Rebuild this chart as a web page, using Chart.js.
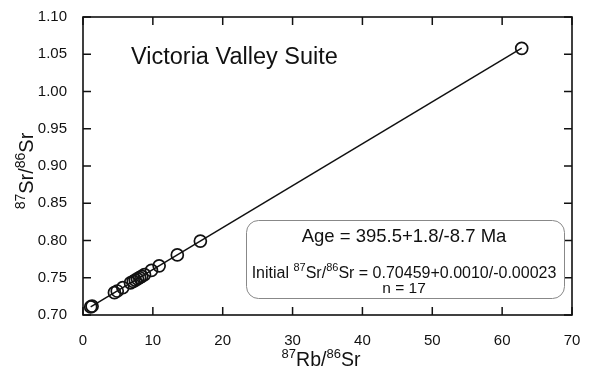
<!DOCTYPE html>
<html>
<head>
<meta charset="utf-8">
<script src="https://cdn.jsdelivr.net/npm/chart.js@4.4.1/dist/chart.umd.min.js"></script>
<style>
  body { margin: 0; background: #fff; }
  #wrap { width: 591px; height: 370px; }
</style>
</head>
<body>
<div id="wrap"><canvas id="isochron" width="591" height="370"></canvas></div>
<script>
// whole-rock samples, Victoria Valley Suite
const rbSr = [1.1, 1.3, 4.5, 4.9, 5.7, 6.8, 7.2, 7.5, 7.8, 8.1, 8.4, 8.8, 9.8, 10.9, 13.5, 16.8, 62.8];
const srSr = [0.7108, 0.7118, 0.7300, 0.7322, 0.7368, 0.7430, 0.7452, 0.7468, 0.7486, 0.7502, 0.7519, 0.7543, 0.7598, 0.7660, 0.7806, 0.7992, 1.0580];

const xTicks = [0, 10, 20, 30, 40, 50, 60, 70];
const yTicks = [0.70, 0.75, 0.80, 0.85, 0.90, 0.95, 1.00, 1.05, 1.10];

// isochron result
const ageMa = 395.5;
const initialRatio = 0.70459;
const lambdaRb = 1.42e-11;
const slope = Math.expm1(lambdaRb * ageMa * 1e6);
const lineX = [rbSr[0], rbSr[rbSr.length - 1]];

const FONT = "'Liberation Sans', Arial, Helvetica, sans-serif";

// draws text with superscript pieces, parts = [[text, isSup], ...]
function drawRich(ctx, parts, x, y, size, align) {
  const supSize = Math.round(size * 0.68);
  let total = 0;
  parts.forEach(p => {
    ctx.font = (p[1] ? supSize : size) + "px " + FONT;
    total += ctx.measureText(p[0]).width;
  });
  let cx = align === "center" ? x - total / 2 : x;
  ctx.textAlign = "left";
  ctx.textBaseline = "alphabetic";
  parts.forEach(p => {
    ctx.font = (p[1] ? supSize : size) + "px " + FONT;
    ctx.fillText(p[0], cx, p[1] ? y - size * 0.42 : y);
    cx += ctx.measureText(p[0]).width;
  });
}

function roundRect(ctx, x, y, w, h, r) {
  ctx.beginPath();
  ctx.moveTo(x + r, y);
  ctx.lineTo(x + w - r, y);
  ctx.arcTo(x + w, y, x + w, y + r, r);
  ctx.lineTo(x + w, y + h - r);
  ctx.arcTo(x + w, y + h, x + w - r, y + h, r);
  ctx.lineTo(x + r, y + h);
  ctx.arcTo(x, y + h, x, y + h - r, r);
  ctx.lineTo(x, y + r);
  ctx.arcTo(x, y, x + r, y, r);
  ctx.closePath();
}

const framePlugin = {
  id: "frame",
  afterDraw(chart) {
    const ctx = chart.ctx;
    const a = chart.chartArea;
    const xs = chart.scales.x, ys = chart.scales.y;
    ctx.save();
    ctx.strokeStyle = "#111";
    ctx.lineWidth = 1.6;
    ctx.strokeRect(a.left, a.top, a.right - a.left, a.bottom - a.top);

    // inward ticks on all four sides
    const tl = 8;
    ctx.lineWidth = 1.5;
    ctx.beginPath();
    xTicks.forEach(v => {
      const px = xs.getPixelForValue(v);
      ctx.moveTo(px, a.bottom);
      ctx.lineTo(px, a.bottom - tl);
      ctx.moveTo(px, a.top);
      ctx.lineTo(px, a.top + tl);
    });
    yTicks.forEach(v => {
      const py = ys.getPixelForValue(v);
      ctx.moveTo(a.left, py);
      ctx.lineTo(a.left + tl, py);
      ctx.moveTo(a.right, py);
      ctx.lineTo(a.right - tl, py);
    });
    ctx.stroke();

    ctx.fillStyle = "#111";
    // axis titles
    drawRich(ctx, [["87", true], ["Rb/", false], ["86", true], ["Sr", false]], 321, 366, 19.5, "center");
    ctx.save();
    ctx.translate(33, 171);
    ctx.rotate(-Math.PI / 2);
    drawRich(ctx, [["87", true], ["Sr/", false], ["86", true], ["Sr", false]], 0, 0, 20, "center");
    ctx.restore();

    // suite name
    ctx.font = "23.5px " + FONT;
    ctx.textAlign = "left";
    ctx.fillText("Victoria Valley Suite", 131, 64);

    // result box
    ctx.strokeStyle = "#888";
    ctx.lineWidth = 1;
    roundRect(ctx, 246.5, 220.5, 318, 78, 12);
    ctx.stroke();
    ctx.fillStyle = "#111";
    const bx = 404;
    drawRich(ctx, [["Age = 395.5+1.8/-8.7 Ma", false]], bx, 242, 18.5, "center");
    drawRich(ctx, [["Initial ", false], ["87", true], ["Sr/", false], ["86", true],
      ["Sr = 0.70459+0.0010/-0.00023", false]], bx, 277.5, 16, "center");
    drawRich(ctx, [["n = 17", false]], bx, 292.5, 15.5, "center");
    ctx.restore();
  }
};

new Chart(document.getElementById("isochron"), {
  type: "scatter",
  data: {
    datasets: [
      {
        label: "isochron",
        type: "line",
        data: lineX.map(x => ({ x: x, y: initialRatio + slope * x })),
        borderColor: "#111",
        borderWidth: 1.5,
        pointRadius: 0,
        fill: false,
        order: 2
      },
      {
        label: "samples",
        data: rbSr.map((x, i) => ({ x: x, y: srSr[i] })),
        pointStyle: "circle",
        pointRadius: 6,
        pointBorderWidth: 1.7,
        pointBorderColor: "#111",
        pointBackgroundColor: "rgba(0,0,0,0)",
        order: 1
      }
    ]
  },
  options: {
    responsive: false,
    animation: false,
    layout: { padding: { top: 15, right: 19, left: 0, bottom: 0 } },
    plugins: { legend: { display: false }, tooltip: { enabled: false } },
    scales: {
      x: {
        type: "linear",
        min: 0, max: 70,
        afterBuildTicks: s => { s.ticks = xTicks.map(v => ({ value: v })); },
        afterFit: s => { s.height = 55; },
        grid: { display: false },
        border: { display: false },
        ticks: { color: "#111", padding: 9, font: { family: FONT, size: 15 } }
      },
      y: {
        type: "linear",
        min: 0.70, max: 1.10,
        afterBuildTicks: s => { s.ticks = yTicks.map(v => ({ value: v })); },
        afterFit: s => { s.width = 83; },
        grid: { display: false },
        border: { display: false },
        ticks: {
          color: "#111", padding: 8, font: { family: FONT, size: 15 },
          callback: v => v.toFixed(2)
        }
      }
    }
  },
  plugins: [framePlugin]
});
</script>
</body>
</html>
